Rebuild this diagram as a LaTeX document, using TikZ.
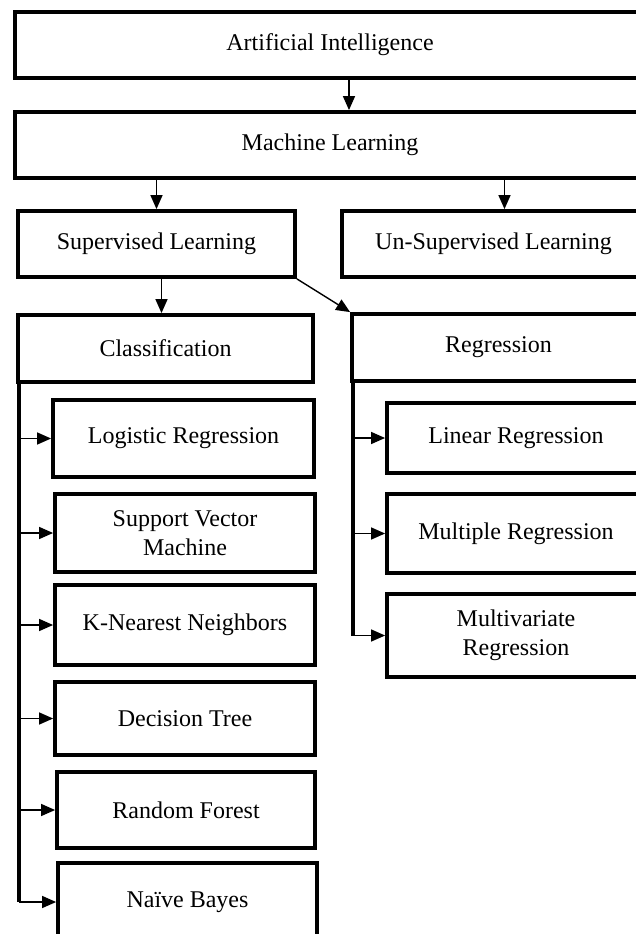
\documentclass[tikz,border=0pt]{standalone}
\usepackage{fontspec}
\setmainfont{Liberation Serif}
\usetikzlibrary{arrows.meta}

\tikzset{
  box/.style 2 args={draw, line width=3.8pt, inner sep=0pt, align=center,
    minimum width=#1, minimum height=#2, font=\fontsize{24}{29}\selectfont},
  link/.style={->, line width=1.4pt},
  trunk/.style={line width=3.8pt},
}

\begin{document}
\begin{tikzpicture}[x=1pt,y=-1pt,>={Triangle[length=14pt,width=12pt]}]
\useasboundingbox (0,0) rectangle (636,934);
\clip (0,0) rectangle (636,934);

\node[box={630pt}{66pt}] (ai) at (330,45) {Artificial Intelligence};
\node[box={630pt}{66pt}] (ml) at (330,145) {Machine Learning};
\node[box={277pt}{66pt}] (sl) at (156.5,244) {Supervised Learning};
\node[box={303pt}{66pt}] (usl) at (493.5,244) {Un-Supervised Learning};
\node[box={295pt}{67pt}] (class) at (165.5,348.5) {Classification};
\node[box={293pt}{67pt}] (reg) at (498.5,347.5) {Regression};

\node[box={261pt}{77pt}] (logreg) at (183.5,438.5) {Logistic Regression};
\node[box={260pt}{78pt}] (svm) at (185,533) {Support Vector\\Machine};
\node[box={260pt}{80pt}] (knn) at (185,625) {K-Nearest Neighbors};
\node[box={260pt}{73pt}] (dtree) at (185,718.5) {Decision Tree};
\node[box={258pt}{76pt}] (rforest) at (186,810) {Random Forest};
\node[box={259pt}{78pt}] (nbayes) at (187.5,902) {Naïve Bayes};

\node[box={258pt}{70pt}] (linreg) at (516,438) {Linear Regression};
\node[box={258pt}{79pt}] (multreg) at (516,533.5) {Multiple Regression};
\node[box={258pt}{83pt}] (multivar) at (516,635.5) {Multivariate\\Regression};

\draw[link] ([xshift=19pt]ai.south) -- ([xshift=19pt]ml.north);
\draw[link] (ml.south -| sl.north) -- (sl.north);
\draw[link] ([xshift=11pt]usl.north |- ml.south) -- ([xshift=11pt]usl.north);
\draw[link] ([xshift=5pt]sl.south) -- ([xshift=5pt]sl.south |- class.north);
\draw[link] (sl.south east) -- (reg.north west);

\draw[trunk] ([xshift=2.5pt]class.south west) -- ([xshift=2.5pt]class.south west |- nbayes.west);
\foreach \n in {logreg,svm,knn,dtree,rforest,nbayes}
{
   \draw[link] ([xshift=2.5pt]class.south west |- \n.west) -- (\n.west);
}

\draw[trunk] ([xshift=3pt]reg.south west) -- ([xshift=3pt]reg.south west |- multivar.west);
\foreach \n in {linreg,multreg,multivar}
{
   \draw[link] ([xshift=3pt]reg.south west |- \n.west) -- (\n.west);
}

\end{tikzpicture}
\end{document}
